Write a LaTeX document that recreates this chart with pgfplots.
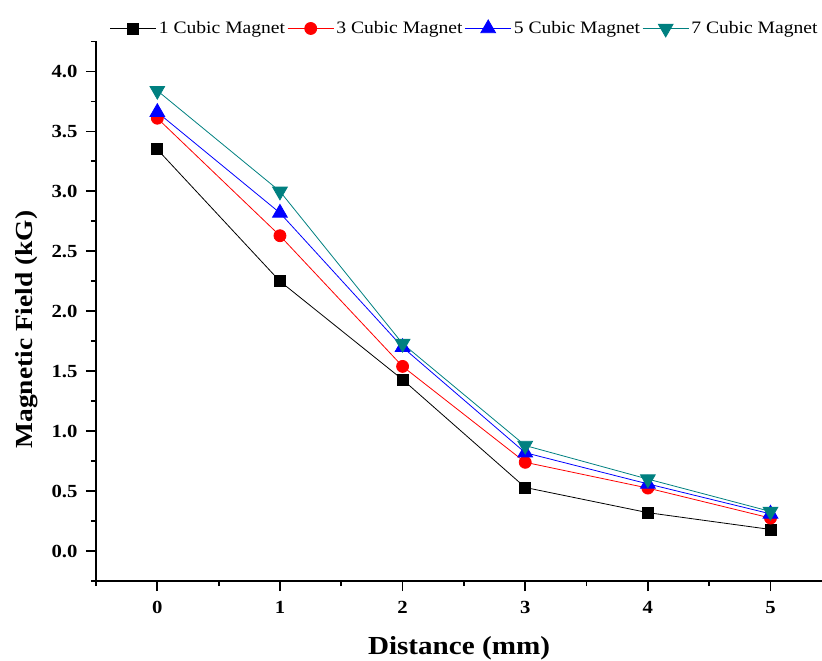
\documentclass[border=0pt]{standalone}
\usepackage{fontspec}
\setmainfont{Liberation Serif}[FakeStretch=1.12]
\usepackage{pgfplots}
\pgfplotsset{compat=1.18}
\definecolor{tealc}{RGB}{0,128,128}

\begin{document}
\begin{tikzpicture}
\begin{axis}[
  name=ax,
  scale only axis, width=726pt, height=539.5pt,
  xmin=-0.5, xmax=5.42, ymin=-0.25, ymax=4.25,
  axis lines*=left, axis line style={line width=2pt},
  tick align=outside, major tick length=10pt, minor tick length=5pt,
  every tick/.style={line width=1.8pt, black},
  xtick={0,1,2,3,4,5}, minor xtick={-0.5,0.5,1.5,2.5,3.5,4.5},
  ytick={0,0.5,...,4.0}, minor ytick={-0.25,0.25,0.75,1.25,1.75,2.25,2.75,3.25,3.75,4.25},
  /pgf/number format/assume math mode=true,
  tick label style={font=\fontsize{18.5}{21}\selectfont\bfseries},
  xticklabel style={yshift=-7pt},
  yticklabel style={xshift=-5pt, /pgf/number format/fixed, /pgf/number format/fixed zerofill, /pgf/number format/precision=1},
  xlabel={Distance (mm)}, ylabel={Magnetic Field (kG)},
  xlabel style={font=\fontsize{26}{30}\selectfont\bfseries, yshift=-16pt},
  ylabel style={font=\fontsize{24.5}{28}\selectfont\bfseries, at={(ticklabel cs:0.466)}, yshift=7pt},
  legend columns=4,
  legend style={draw=none, fill=none, at={(1,1)}, anchor=south east, yshift=2pt,
    font=\fontsize{17.5}{20}\selectfont, column sep=1pt,
    nodes={inner xsep=1.2pt}},
  legend cell align=left,
  legend image code/.code={\draw[mark repeat=2,mark phase=2] plot coordinates {(0pt,0pt)(23pt,0pt)(46pt,0pt)};},
  every axis plot/.append style={line width=0.8pt},
]
\addplot[black, mark=square*, mark size=5.5pt] coordinates {
  (0,3.35) (1,2.25) (2,1.43) (3,0.53) (4,0.32) (5,0.18)};
\addplot[red, mark=*, mark size=6pt] coordinates {
  (0,3.61) (1,2.63) (2,1.54) (3,0.74) (4,0.525) (5,0.275)};
\addplot[blue, mark=triangle*, mark size=8.5pt] coordinates {
  (0,3.66) (1,2.82) (2,1.70) (3,0.82) (4,0.56) (5,0.31)};
\addplot[tealc, mark=triangle*, mark size=8.5pt, mark options={rotate=180}] coordinates {
  (0,3.84) (1,3.00) (2,1.73) (3,0.88) (4,0.60) (5,0.33)};
\legend{1 Cubic Magnet, 3 Cubic Magnet, 5 Cubic Magnet, 7 Cubic Magnet}
\end{axis}
\pgfresetboundingbox
\path ([shift={(-96pt,-80pt)}]ax.south west) rectangle ([shift={(0pt,41.5pt)}]ax.north east);
\end{tikzpicture}
\end{document}
